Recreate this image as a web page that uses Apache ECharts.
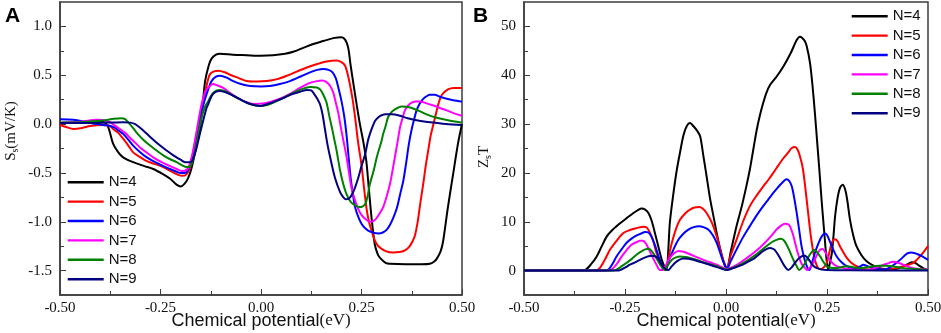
<!DOCTYPE html>
<html>
<head>
<meta charset="utf-8">
<script src="https://cdn.jsdelivr.net/npm/echarts@6/dist/echarts.min.js"></script>
<style>html,body{margin:0;padding:0;background:#fff}#c{width:941px;height:333px}</style>
</head>
<body>
<div id="c"></div>
<script>
// ---------- data ----------
const names = ['N=4','N=5','N=6','N=7','N=8','N=9'];
const colors = ['#000000','#ff0000','#0000ff','#ff00ff','#008000','#000080'];

const xTicks = [-0.5,-0.25,0,0.25,0.5];
const yTicksA = [-1.5,-1.0,-0.5,0,0.5,1.0];
const yMinorA = [-1.25,-0.75,-0.25,0.25,0.75];
const yTicksB = [0,10,20,30,40,50];
const yMinorB = [5,15,25,35,45];

// Panel A: S_s (mV/K) vs chemical potential (eV)
const a4 = [[-0.5,0.01],[-0.45,0.02],[-0.41,0.03],[-0.39,0.02],[-0.38,-0.03],[-0.368,-0.2],[-0.355,-0.29],[-0.343,-0.34],[-0.318,-0.39],[-0.29,-0.43],[-0.268,-0.46],[-0.245,-0.51],[-0.226,-0.56],[-0.21,-0.62],[-0.2,-0.64],[-0.19,-0.61],[-0.181,-0.55],[-0.172,-0.44],[-0.162,-0.25],[-0.152,-0.04],[-0.145,0.2],[-0.139,0.44],[-0.13,0.6],[-0.123,0.67],[-0.112,0.71],[-0.102,0.72],[-0.07,0.71],[-0.036,0.705],[0.0,0.70],[0.03,0.705],[0.06,0.72],[0.08,0.74],[0.105,0.78],[0.13,0.82],[0.155,0.85],[0.18,0.88],[0.2,0.89],[0.21,0.86],[0.217,0.78],[0.223,0.6],[0.23,0.41],[0.238,0.2],[0.246,0.0],[0.254,-0.17],[0.262,-0.38],[0.268,-0.65],[0.275,-0.96],[0.283,-1.23],[0.29,-1.33],[0.296,-1.37],[0.31,-1.42],[0.321,-1.43],[0.36,-1.435],[0.4,-1.435],[0.42,-1.43],[0.43,-1.41],[0.437,-1.38],[0.447,-1.3],[0.453,-1.2],[0.465,-0.85],[0.478,-0.51],[0.49,-0.2],[0.5,0.0]];
const a5 = [[-0.5,-0.01],[-0.485,-0.03],[-0.467,-0.05],[-0.445,-0.04],[-0.425,-0.02],[-0.393,-0.01],[-0.375,-0.02],[-0.368,-0.05],[-0.355,-0.09],[-0.343,-0.15],[-0.33,-0.22],[-0.318,-0.29],[-0.3,-0.34],[-0.284,-0.38],[-0.263,-0.41],[-0.243,-0.44],[-0.225,-0.48],[-0.206,-0.52],[-0.195,-0.53],[-0.187,-0.52],[-0.178,-0.46],[-0.169,-0.34],[-0.157,-0.05],[-0.144,0.21],[-0.135,0.4],[-0.127,0.51],[-0.117,0.54],[-0.106,0.546],[-0.09,0.53],[-0.077,0.505],[-0.055,0.47],[-0.036,0.44],[-0.01,0.435],[0.014,0.44],[0.04,0.46],[0.064,0.495],[0.09,0.54],[0.114,0.58],[0.14,0.615],[0.163,0.64],[0.188,0.65],[0.2,0.635],[0.209,0.6],[0.215,0.52],[0.221,0.41],[0.228,0.25],[0.234,0.07],[0.242,-0.2],[0.25,-0.42],[0.256,-0.64],[0.262,-0.85],[0.268,-0.99],[0.275,-1.09],[0.283,-1.19],[0.292,-1.25],[0.31,-1.3],[0.329,-1.315],[0.345,-1.31],[0.355,-1.30],[0.363,-1.28],[0.37,-1.25],[0.377,-1.2],[0.383,-1.14],[0.389,-1.02],[0.396,-0.82],[0.404,-0.6],[0.41,-0.42],[0.416,-0.27],[0.422,-0.12],[0.429,0.0],[0.436,0.12],[0.443,0.23],[0.45,0.3],[0.465,0.355],[0.48,0.37],[0.5,0.37]];
const a6 = [[-0.5,0.05],[-0.467,0.045],[-0.445,0.03],[-0.425,0.01],[-0.393,-0.01],[-0.375,-0.02],[-0.363,-0.04],[-0.353,-0.07],[-0.343,-0.10],[-0.33,-0.16],[-0.318,-0.22],[-0.3,-0.29],[-0.284,-0.34],[-0.263,-0.39],[-0.243,-0.43],[-0.22,-0.47],[-0.2,-0.50],[-0.19,-0.5],[-0.183,-0.48],[-0.172,-0.36],[-0.16,-0.10],[-0.15,0.1],[-0.143,0.2],[-0.139,0.26],[-0.13,0.37],[-0.123,0.44],[-0.112,0.485],[-0.102,0.495],[-0.085,0.475],[-0.069,0.44],[-0.05,0.41],[-0.027,0.39],[0.0,0.385],[0.022,0.39],[0.047,0.41],[0.072,0.44],[0.1,0.49],[0.122,0.53],[0.14,0.555],[0.155,0.565],[0.168,0.555],[0.178,0.53],[0.186,0.47],[0.192,0.38],[0.2,0.24],[0.207,0.08],[0.213,-0.12],[0.218,-0.34],[0.223,-0.55],[0.228,-0.7],[0.234,-0.85],[0.242,-0.95],[0.25,-1.02],[0.26,-1.07],[0.271,-1.10],[0.292,-1.12],[0.303,-1.11],[0.313,-1.08],[0.321,-1.03],[0.329,-0.96],[0.338,-0.86],[0.346,-0.72],[0.354,-0.58],[0.361,-0.4],[0.368,-0.2],[0.375,-0.05],[0.381,0.05],[0.387,0.14],[0.395,0.21],[0.404,0.26],[0.412,0.285],[0.42,0.30],[0.432,0.30],[0.445,0.28],[0.462,0.26],[0.478,0.245],[0.5,0.23]];
const a7 = [[-0.5,0.01],[-0.47,0.02],[-0.45,0.025],[-0.43,0.035],[-0.41,0.045],[-0.39,0.04],[-0.376,0.02],[-0.365,-0.01],[-0.351,-0.05],[-0.338,-0.09],[-0.326,-0.14],[-0.313,-0.19],[-0.301,-0.24],[-0.285,-0.29],[-0.268,-0.34],[-0.247,-0.39],[-0.226,-0.43],[-0.21,-0.46],[-0.197,-0.48],[-0.188,-0.475],[-0.181,-0.45],[-0.172,-0.33],[-0.16,-0.07],[-0.148,0.2],[-0.138,0.34],[-0.131,0.375],[-0.119,0.41],[-0.108,0.395],[-0.094,0.37],[-0.077,0.32],[-0.06,0.27],[-0.04,0.23],[-0.019,0.205],[0.006,0.21],[0.025,0.23],[0.047,0.26],[0.072,0.31],[0.097,0.37],[0.12,0.42],[0.139,0.44],[0.152,0.445],[0.163,0.43],[0.172,0.39],[0.18,0.32],[0.186,0.22],[0.192,0.12],[0.198,-0.02],[0.205,-0.17],[0.213,-0.34],[0.219,-0.5],[0.225,-0.65],[0.233,-0.77],[0.242,-0.87],[0.25,-0.93],[0.259,-0.97],[0.271,-1.0],[0.28,-0.99],[0.288,-0.96],[0.296,-0.91],[0.304,-0.85],[0.312,-0.75],[0.321,-0.61],[0.327,-0.48],[0.333,-0.34],[0.339,-0.2],[0.346,-0.03],[0.352,0.06],[0.358,0.14],[0.366,0.19],[0.375,0.22],[0.385,0.23],[0.396,0.23],[0.41,0.215],[0.429,0.19],[0.445,0.165],[0.462,0.14],[0.48,0.11],[0.5,0.085]];
const a8 = [[-0.5,0.016],[-0.45,0.02],[-0.4,0.034],[-0.38,0.045],[-0.367,0.054],[-0.347,0.06],[-0.338,0.05],[-0.33,0.016],[-0.32,-0.03],[-0.309,-0.09],[-0.293,-0.16],[-0.276,-0.22],[-0.26,-0.27],[-0.243,-0.32],[-0.226,-0.36],[-0.21,-0.39],[-0.197,-0.42],[-0.185,-0.44],[-0.178,-0.435],[-0.173,-0.41],[-0.165,-0.3],[-0.156,-0.10],[-0.147,0.08],[-0.139,0.18],[-0.133,0.22],[-0.127,0.27],[-0.119,0.32],[-0.11,0.345],[-0.102,0.35],[-0.085,0.33],[-0.069,0.29],[-0.048,0.245],[-0.027,0.205],[-0.002,0.185],[0.015,0.195],[0.031,0.22],[0.055,0.265],[0.08,0.32],[0.1,0.355],[0.122,0.38],[0.139,0.375],[0.148,0.35],[0.155,0.3],[0.163,0.22],[0.17,0.08],[0.176,-0.03],[0.182,-0.15],[0.188,-0.27],[0.197,-0.48],[0.205,-0.62],[0.213,-0.72],[0.222,-0.79],[0.23,-0.82],[0.245,-0.85],[0.252,-0.845],[0.259,-0.82],[0.265,-0.74],[0.271,-0.61],[0.28,-0.48],[0.288,-0.34],[0.3,-0.17],[0.304,-0.10],[0.31,-0.02],[0.316,0.07],[0.324,0.12],[0.333,0.15],[0.342,0.17],[0.35,0.18],[0.362,0.178],[0.375,0.165],[0.393,0.135],[0.412,0.10],[0.433,0.07],[0.454,0.05],[0.478,0.03],[0.5,0.016]];
const a9 = [[-0.5,0.01],[-0.42,0.01],[-0.38,0.015],[-0.343,0.02],[-0.325,0.015],[-0.313,0.0],[-0.3,-0.04],[-0.284,-0.10],[-0.268,-0.16],[-0.251,-0.22],[-0.235,-0.27],[-0.218,-0.32],[-0.2,-0.365],[-0.189,-0.39],[-0.18,-0.39],[-0.172,-0.38],[-0.162,-0.27],[-0.152,-0.10],[-0.143,0.05],[-0.135,0.17],[-0.131,0.205],[-0.125,0.27],[-0.119,0.31],[-0.11,0.335],[-0.102,0.34],[-0.085,0.32],[-0.069,0.29],[-0.048,0.245],[-0.027,0.205],[-0.002,0.185],[0.02,0.21],[0.039,0.24],[0.06,0.275],[0.08,0.31],[0.1,0.335],[0.114,0.35],[0.125,0.345],[0.132,0.31],[0.14,0.26],[0.147,0.2],[0.153,0.1],[0.159,-0.05],[0.165,-0.2],[0.172,-0.34],[0.184,-0.55],[0.197,-0.70],[0.205,-0.75],[0.211,-0.77],[0.218,-0.765],[0.225,-0.73],[0.233,-0.66],[0.242,-0.55],[0.25,-0.43],[0.259,-0.31],[0.266,-0.17],[0.271,-0.10],[0.277,-0.03],[0.284,0.034],[0.292,0.07],[0.3,0.09],[0.31,0.1],[0.325,0.1],[0.346,0.085],[0.365,0.06],[0.387,0.04],[0.41,0.025],[0.429,0.016],[0.46,0.0],[0.5,-0.01]];

// Panel B: Z_s T vs chemical potential (eV)
const b4 = [[-0.5,0],[-0.36,0],[-0.349,0.1],[-0.335,1.2],[-0.32,2.9],[-0.308,4.9],[-0.295,7.0],[-0.28,8.4],[-0.262,9.7],[-0.245,10.8],[-0.229,11.8],[-0.218,12.4],[-0.209,12.7],[-0.2,12.5],[-0.192,11.8],[-0.184,10.2],[-0.176,7.7],[-0.167,4.8],[-0.159,2.2],[-0.152,0.8],[-0.147,0.3],[-0.143,4],[-0.139,9.8],[-0.13,15.9],[-0.122,20.5],[-0.114,24.1],[-0.105,27.8],[-0.097,29.6],[-0.089,30.2],[-0.08,29.5],[-0.072,28.7],[-0.064,27.5],[-0.056,23.5],[-0.048,19.3],[-0.04,15],[-0.031,11.1],[-0.02,6.5],[-0.01,3.0],[-0.002,0.8],[0.002,0.5],[0.012,4.0],[0.026,9.1],[0.04,13.5],[0.051,17.5],[0.059,20.7],[0.068,25],[0.076,28.8],[0.084,31.8],[0.092,34.3],[0.1,36.4],[0.109,38.0],[0.125,39.7],[0.142,41.8],[0.16,44.5],[0.175,47.2],[0.183,47.9],[0.188,47.7],[0.195,47.0],[0.2,45.9],[0.208,42.5],[0.214,38],[0.22,32.3],[0.226,26],[0.231,20.7],[0.237,14],[0.241,10],[0.245,6],[0.249,2.2],[0.253,0.2],[0.257,1.5],[0.262,3.6],[0.266,7],[0.27,11.1],[0.276,14.8],[0.282,16.9],[0.289,17.6],[0.295,16.6],[0.3,14.5],[0.307,10.4],[0.315,7.2],[0.323,5.0],[0.335,3.2],[0.348,1.9],[0.365,1.0],[0.381,0.5],[0.4,0.3],[0.414,0.2],[0.425,0.4],[0.439,0.9],[0.452,1.4],[0.46,1.7],[0.468,1.6],[0.478,1.0],[0.49,0.4],[0.5,0.1]];
const b5 = [[-0.5,0],[-0.33,0],[-0.316,0.2],[-0.3,2.2],[-0.287,4.3],[-0.27,6.2],[-0.254,7.7],[-0.238,8.3],[-0.221,8.7],[-0.205,9.0],[-0.196,8.8],[-0.188,7.7],[-0.18,6.0],[-0.172,3.6],[-0.163,1.8],[-0.155,0.5],[-0.149,0.1],[-0.142,2.8],[-0.134,5.7],[-0.124,8.5],[-0.114,10.4],[-0.1,11.8],[-0.089,12.5],[-0.078,12.9],[-0.066,13.0],[-0.058,12.7],[-0.048,11.8],[-0.035,9.8],[-0.023,7.0],[-0.015,4.6],[-0.007,2.2],[0.002,0.5],[0.012,3.2],[0.026,6.3],[0.042,10.0],[0.059,13.2],[0.076,15.4],[0.092,17.2],[0.105,18.6],[0.117,20.0],[0.13,21.6],[0.142,23.0],[0.153,24.1],[0.163,25.1],[0.171,25.3],[0.177,24.8],[0.183,23.4],[0.19,21.0],[0.196,17.2],[0.202,12.8],[0.208,8.4],[0.214,4.8],[0.22,2.2],[0.226,0.8],[0.233,0.3],[0.241,0.6],[0.249,1.5],[0.256,3.8],[0.262,5.7],[0.27,6.4],[0.276,6.0],[0.282,5.0],[0.29,3.8],[0.299,2.6],[0.31,1.6],[0.323,0.9],[0.34,0.4],[0.356,0.2],[0.38,0.2],[0.398,0.3],[0.42,0.5],[0.439,0.9],[0.452,1.2],[0.464,1.6],[0.472,2.2],[0.48,2.9],[0.49,3.9],[0.5,5.0]];
const b6 = [[-0.5,0],[-0.3,0],[-0.29,0.3],[-0.28,1.5],[-0.271,2.9],[-0.258,4.4],[-0.246,5.7],[-0.233,6.6],[-0.221,7.2],[-0.21,7.6],[-0.2,7.9],[-0.192,7.8],[-0.184,6.9],[-0.175,5.0],[-0.167,2.9],[-0.159,1.2],[-0.151,0.3],[-0.143,1.8],[-0.134,3.6],[-0.118,6.3],[-0.105,7.6],[-0.093,8.4],[-0.08,8.9],[-0.066,9.1],[-0.056,8.9],[-0.044,8.4],[-0.033,7.3],[-0.023,5.7],[-0.015,3.8],[-0.007,1.9],[0.003,0.5],[0.012,2.0],[0.026,4.3],[0.042,6.8],[0.059,9.1],[0.075,11.2],[0.092,13.2],[0.105,14.6],[0.117,15.9],[0.128,17.0],[0.138,17.9],[0.15,18.7],[0.157,18.3],[0.163,17.2],[0.169,14.8],[0.175,11.8],[0.181,8.4],[0.187,5.0],[0.194,2.4],[0.2,0.9],[0.206,0.1],[0.213,1.6],[0.22,3.6],[0.229,5.6],[0.237,7.0],[0.245,7.6],[0.25,7.3],[0.257,6.0],[0.265,4.4],[0.274,2.9],[0.286,1.7],[0.299,0.9],[0.31,0.6],[0.323,0.5],[0.333,0.9],[0.34,1.2],[0.35,0.9],[0.365,0.5],[0.389,0.2],[0.405,0.6],[0.422,1.6],[0.435,2.5],[0.445,3.3],[0.451,3.6],[0.458,3.7],[0.466,3.6],[0.476,3.3],[0.488,2.8],[0.5,2.2]];
const b7 = [[-0.5,0],[-0.29,0],[-0.283,0.2],[-0.27,1.4],[-0.258,2.9],[-0.246,4.2],[-0.234,5.3],[-0.222,5.8],[-0.213,6.1],[-0.206,6.1],[-0.198,5.5],[-0.19,4.2],[-0.182,2.8],[-0.172,1.2],[-0.163,0.1],[-0.155,0.2],[-0.148,1.2],[-0.141,2.3],[-0.134,3.1],[-0.126,3.7],[-0.118,4.0],[-0.108,3.9],[-0.097,3.6],[-0.077,2.9],[-0.056,2.2],[-0.04,1.7],[-0.023,1.2],[-0.01,0.7],[0.002,0.3],[0.018,0.8],[0.035,1.6],[0.052,2.6],[0.068,3.6],[0.085,4.8],[0.1,6.0],[0.113,7.2],[0.125,8.4],[0.136,9.2],[0.146,9.6],[0.153,9.5],[0.158,9.1],[0.165,7.6],[0.171,5.7],[0.177,3.8],[0.183,2.2],[0.19,1.0],[0.196,0.5],[0.201,0.1],[0.208,0.6],[0.216,1.6],[0.225,3.2],[0.233,4.3],[0.239,4.4],[0.247,3.6],[0.257,2.2],[0.265,1.4],[0.274,0.9],[0.29,0.5],[0.307,0.3],[0.325,0.15],[0.344,0.1],[0.36,0.3],[0.381,0.9],[0.398,1.4],[0.414,1.8],[0.43,1.5],[0.439,1.2],[0.45,0.8],[0.464,0.5],[0.48,0.3],[0.5,0.2]];
const b8 = [[-0.5,0],[-0.28,0],[-0.271,0.2],[-0.258,0.9],[-0.246,1.6],[-0.233,2.4],[-0.221,3.3],[-0.208,4.0],[-0.196,4.4],[-0.19,4.4],[-0.182,3.8],[-0.172,2.5],[-0.163,1.2],[-0.156,0.4],[-0.151,0.1],[-0.143,1.2],[-0.134,2.2],[-0.124,2.7],[-0.114,2.9],[-0.1,2.8],[-0.089,2.6],[-0.072,2.2],[-0.056,1.7],[-0.04,1.3],[-0.023,0.9],[-0.01,0.5],[0.002,0.2],[0.018,0.6],[0.035,1.2],[0.052,2.0],[0.068,2.9],[0.085,4.0],[0.1,5.0],[0.113,5.8],[0.125,6.3],[0.136,6.5],[0.143,6.2],[0.15,5.3],[0.157,4.1],[0.163,2.9],[0.169,1.8],[0.175,0.9],[0.181,0.1],[0.188,0.6],[0.196,1.6],[0.204,2.8],[0.212,3.8],[0.218,4.2],[0.224,3.9],[0.233,2.9],[0.241,1.8],[0.249,0.9],[0.26,0.6],[0.274,0.5],[0.285,0.7],[0.299,0.9],[0.315,0.7],[0.332,0.5],[0.35,0.7],[0.365,0.9],[0.38,1.0],[0.398,1.0],[0.418,0.8],[0.439,0.5],[0.47,0.3],[0.5,0.1]];
const b9 = [[-0.5,0],[-0.27,0],[-0.262,0.1],[-0.25,0.6],[-0.238,1.2],[-0.225,1.7],[-0.213,2.2],[-0.2,2.7],[-0.188,3.0],[-0.18,3.0],[-0.172,2.8],[-0.165,2.1],[-0.159,1.2],[-0.151,0.4],[-0.143,0.1],[-0.135,0.8],[-0.126,1.6],[-0.116,2.2],[-0.106,2.5],[-0.093,2.4],[-0.081,2.2],[-0.065,1.8],[-0.048,1.4],[-0.03,0.9],[-0.015,0.5],[0.002,0.1],[0.018,0.5],[0.035,1.0],[0.052,1.7],[0.068,2.4],[0.08,3.2],[0.092,4.0],[0.1,4.4],[0.109,4.6],[0.115,4.5],[0.121,4.2],[0.13,3.1],[0.138,1.9],[0.146,0.8],[0.154,0.1],[0.162,0.6],[0.171,1.6],[0.179,2.4],[0.187,2.9],[0.193,3.1],[0.2,2.8],[0.208,1.9],[0.216,1.0],[0.225,0.5],[0.237,0.2],[0.249,0.1],[0.3,0.05],[0.5,0]];

const seriesA = [a4,a5,a6,a7,a8,a9];
const seriesB = [b4,b5,b6,b7,b8,b9];

// ---------- chart ----------
const serif = 'Liberation Serif';
const sans = 'Liberation Sans';
const frame = '#3c3c3c';

function xAxisFor(gi){
  return {
    type:'value', gridIndex:gi, min:-0.5, max:0.5, interval:0.25,
    axisLine:{show:true, onZero:false, lineStyle:{color:frame, width:1.5}},
    axisTick:{show:true, inside:true, length:6, lineStyle:{color:frame, width:1}},
    minorTick:{show:true, splitNumber:2, length:4, lineStyle:{color:frame, width:1}},
    splitLine:{show:false},
    axisLabel:{fontFamily:serif, fontSize:15, color:'#111', margin:6, formatter:v=>v.toFixed(2)},
    name:'{a|Chemical potential}{b|(eV)}', nameLocation:'middle', nameGap:17, nameMoveOverlap:false,
    nameTextStyle:{rich:{a:{fontFamily:sans, fontSize:18, color:'#111'}, b:{fontFamily:serif, fontSize:17, color:'#111'}}}
  };
}
function yAxisMajor(gi, min, max, ticks, fmt){
  return {
    type:'value', gridIndex:gi, min:min, max:max, position:'left',
    axisLine:{show:true, onZero:false, lineStyle:{color:frame, width:1.5}},
    axisTick:{show:true, inside:true, length:6, customValues:ticks, lineStyle:{color:frame, width:1}},
    splitLine:{show:false},
    axisLabel:{fontFamily:serif, fontSize:15, color:'#111', margin:8, customValues:ticks, formatter:fmt}
  };
}
function yAxisMinor(gi, min, max, ticks){
  return {
    type:'value', gridIndex:gi, min:min, max:max, position:'left', offset:0,
    axisLine:{show:false, onZero:false},
    axisTick:{show:true, inside:true, length:4, customValues:ticks, lineStyle:{color:frame, width:1}},
    splitLine:{show:false},
    axisLabel:{show:false}
  };
}

const series = [];
seriesA.forEach((d,i)=>series.push({type:'line', name:names[i], xAxisIndex:0, yAxisIndex:0, data:d, showSymbol:false, symbol:'none', smooth:0.3, lineStyle:{color:colors[i], width:2}, itemStyle:{color:colors[i]}, animation:false, clip:true}));
seriesB.forEach((d,i)=>series.push({type:'line', name:names[i], xAxisIndex:1, yAxisIndex:2, data:d, showSymbol:false, symbol:'none', smooth:0.3, lineStyle:{color:colors[i], width:2}, itemStyle:{color:colors[i]}, animation:false, clip:true}));

const legendCommon = {orient:'vertical', padding:0, itemWidth:36, itemHeight:14, itemGap:4.4,
  icon:'path://M0,0 L36,0 L36,2.4 L0,2.4 Z',
  textStyle:{fontFamily:sans, fontSize:15, color:'#111'}, data:names, selectedMode:false};

const gridCommon = {show:true, borderColor:frame, borderWidth:1.5, backgroundColor:'transparent', containLabel:false, outerBoundsMode:'none'};

const option = {
  backgroundColor:'#fff',
  animation:false,
  grid:[
    Object.assign({left:60, right:479, top:2, bottom:38}, gridCommon),
    Object.assign({left:524, right:13, top:2, bottom:38}, gridCommon)
  ],
  xAxis:[xAxisFor(0), xAxisFor(1)],
  yAxis:[
    yAxisMajor(0, -1.75, 1.25, yTicksA, v=>v.toFixed(1)),
    yAxisMinor(0, -1.75, 1.25, yMinorA),
    yAxisMajor(1, -5, 55, yTicksB, v=>String(Math.round(v))),
    yAxisMinor(1, -5, 55, yMinorB)
  ],
  legend:[
    Object.assign({left:67.7, top:174.7}, legendCommon),
    Object.assign({left:851.7, top:8.7}, legendCommon)
  ],
  graphic:[
    {type:'text', left:5, top:6, style:{text:'A', font:'bold 21px "Liberation Sans"', fill:'#000'}},
    {type:'text', left:473, top:6, style:{text:'B', font:'bold 21px "Liberation Sans"', fill:'#000'}},
    {type:'text', x:11, y:131, rotation:Math.PI/2, style:{text:'{n|S}{s|s}{n|(mV/K)}', align:'center', verticalAlign:'middle',
      rich:{n:{fontFamily:serif, fontSize:15, fill:'#111', lineHeight:18}, s:{fontFamily:serif, fontSize:10, fill:'#111', verticalAlign:'bottom', lineHeight:18}}}},
    {type:'text', x:484, y:157, rotation:Math.PI/2, style:{text:'{n|Z}{s|s}{n|T}', align:'center', verticalAlign:'middle',
      rich:{n:{fontFamily:serif, fontSize:15, fill:'#111', lineHeight:18}, s:{fontFamily:serif, fontSize:10, fill:'#111', verticalAlign:'bottom', lineHeight:18}}}}
  ],
  series:series
};

const chart = echarts.init(document.getElementById('c'), null, {renderer:'canvas'});
chart.setOption(option);
</script>
</body>
</html>
